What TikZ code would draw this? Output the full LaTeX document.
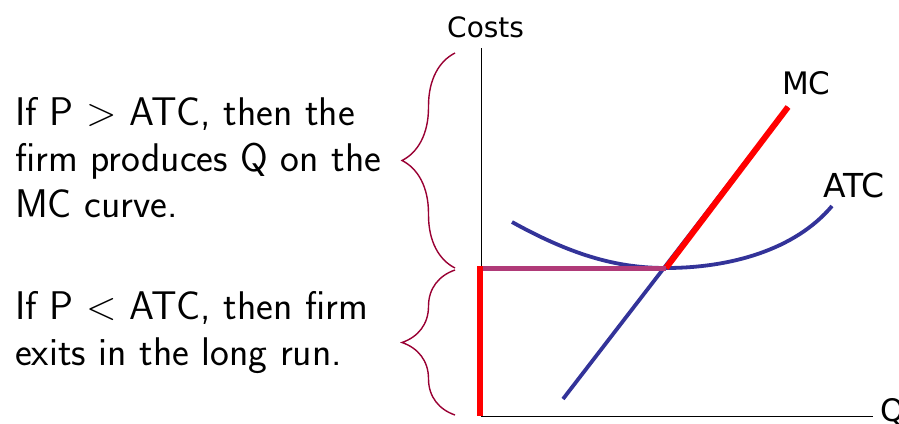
\documentclass[tikz,border=0pt]{standalone}
\usepackage{fontspec}
\newfontfamily\labelfont{DejaVu Sans}
\usetikzlibrary{decorations.pathreplacing}
\definecolor{curveblue}{HTML}{333399}
\definecolor{bracered}{HTML}{990033}
\definecolor{minpurple}{HTML}{B03A78}

\begin{document}
\begin{tikzpicture}[x=1pt,y=-1pt,
    lbl/.style={font=\labelfont\fontsize{31}{31}\selectfont,inner sep=0pt,anchor=base west},
    note/.style={font=\sffamily\fontsize{40}{46}\selectfont,align=left,inner sep=0pt,anchor=base west},
    curve/.style={curveblue,line width=3.8pt},
    shutrule/.style={red,line width=6pt},
    curly/.style={bracered,line width=1.4pt,decorate,decoration={brace,amplitude=53pt}}]
    \useasboundingbox (0,0) rectangle (899,423);

    % axes
    \coordinate (O) at (481,416);
    \coordinate (ytop) at (481,48);
    \coordinate (xend) at (873,416);
    \draw[line width=1pt] (ytop)--(O)--(xend);
    \node[lbl,font=\labelfont\fontsize{28}{28}\selectfont] (costs) at (447,37) {Costs};
    \node[lbl] (qlab) at (880,421) {Q};

    % cost curves
    \coordinate (mclo) at (563,399);
    \coordinate (mchi) at (788,107);
    \coordinate (minpt) at (666,268);
    \coordinate (atcl) at (512,222);
    \coordinate (atcr) at (832,206);
    \coordinate (pmin) at (481,268);
    \draw[curve] (atcl) .. controls (575,257) and (620,268) .. (minpt)
        .. controls (730,268) and (795,250) .. (atcr);
    \draw[curve] (mclo)--(mchi);
    \node[lbl] (mc) at (782,94) {MC};
    \node[lbl,font=\labelfont\fontsize{33}{33}\selectfont] (atc) at (823,197) {ATC};

    % supply rule
    \draw[shutrule] (minpt)--(mchi);
    \draw[minpurple,line width=5pt] (pmin)--(minpt);
    \draw[shutrule] (480,266)--(480,416);

    % braces and notes
    \coordinate (b1) at (455,53);
    \coordinate (b2) at (455,268);
    \coordinate (b3) at (455,270);
    \coordinate (b4) at (455,415);
    \draw[curly] (b2)--(b1);
    \draw[curly] (b4)--(b3);
    \node[note] (above) at (15,217) {If P > ATC, then the\\firm produces Q on the\\MC curve.};
    \node[note] (below) at (15,365) {If P < ATC, then firm\\exits in the long run.};
\end{tikzpicture}
\end{document}
